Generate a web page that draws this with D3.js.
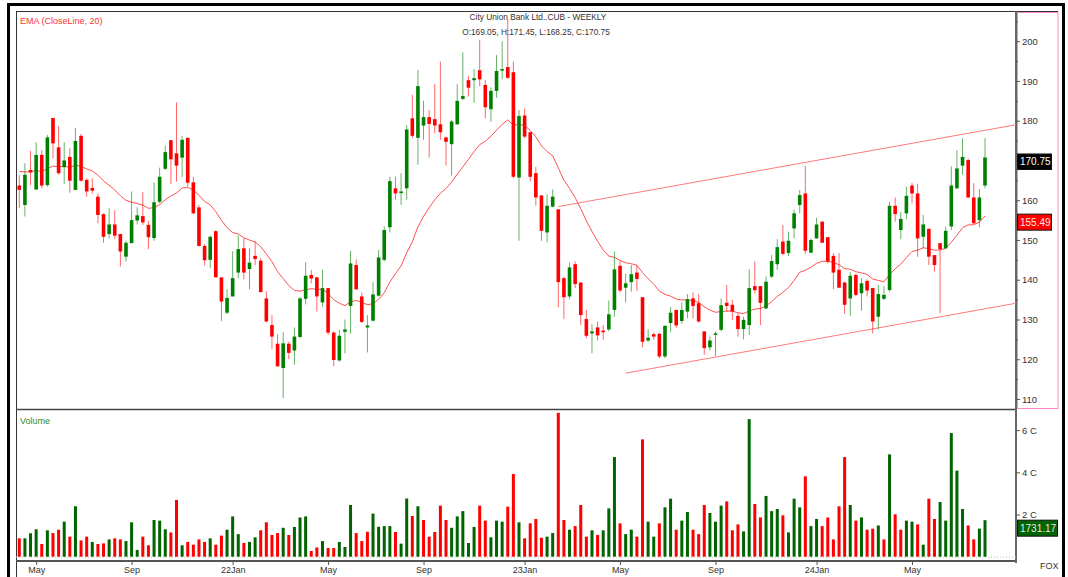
<!DOCTYPE html>
<html>
<head>
<meta charset="utf-8">
<script src="https://cdn.jsdelivr.net/npm/d3@7"></script>
<style>
body{margin:0;background:#fff;}
svg{display:block;font-family:"Liberation Sans",Arial,sans-serif;}
</style>
</head>
<body>
<div id="chart"></div>
<script>
var width = 1068;
var height = 577;

// weekly candles (Friday dated)
var firstWeek = "2021-04-16";

var opens = [163.7,158.8,167.6,162.7,171.4,163.8,180.7,173.3,168.3,170.9,162.6,176.2,165.1,163.1,160.9,156.5,151.5,153.9,151.5,145.8,
149.2,154.9,156.0,153.8,150.5,159.6,167.9,175.1,171.8,170.7,175.7,164.5,158.2,148.5,145.0,152.2,140.6,131.7,135.8,141.8,
147.9,142.7,146.0,144.8,135.3,128.6,123.9,117.8,123.9,122.2,125.6,135.2,141.2,140.6,134.3,137.9,126.7,119.7,126.9,133.4,
143.7,135.8,128.0,129.7,136.0,145.0,153.2,163.0,161.8,163.0,180.6,175.7,178.8,180.9,180.4,179.1,175.8,174.1,179.1,185.5,
190.2,190.2,192.7,189.0,182.9,187.5,192.8,193.5,192.2,165.7,181.3,177.1,166.8,161.2,151.9,158.4,157.7,140.4,135.8,143.9,
139.3,130.1,126.5,128.0,127.2,127.5,132.4,143.5,138.0,139.4,141.8,135.6,124.7,126.3,126.4,120.7,129.1,132.4,129.6,132.0,
135.3,134.1,127.0,123.0,126.1,127.4,134.2,133.7,130.9,127.6,128.6,138.4,138.4,132.8,140.8,143.9,149.6,146.7,152.9,158.8,
161.7,146.8,150.4,154.6,150.7,146.0,142.5,139.3,135.3,141.2,136.6,139.7,137.9,130.7,135.2,137.4,158.6,152.5,156.7,163.7,
161.7,150.8,152.8,146.2,149.2,147.9,153.4,163.0,168.7,170.1,160.7,155.0,163.7];
var highs = [166.3,169.3,172.4,174.6,172.6,176.4,180.7,178.7,174.6,173.1,178.2,176.7,165.5,165.5,161.7,156.7,158.0,157.5,151.5,149.8,
162.2,158.2,162.0,154.8,164.5,168.2,173.7,175.1,184.6,176.2,175.7,165.9,158.8,149.0,151.1,152.5,140.6,137.6,147.2,151.1,
150.4,147.9,149.6,145.4,137.1,131.1,126.3,126.8,124.4,128.0,135.6,144.4,142.5,140.6,142.5,137.9,127.0,127.4,130.0,147.3,
145.1,136.8,131.1,139.4,147.5,153.4,165.9,165.9,166.8,178.9,186.5,192.8,185.0,182.7,189.2,194.9,176.0,180.2,189.2,197.2,
191.3,193.0,200.3,190.2,188.4,196.5,200.0,205.5,194.9,182.7,183.1,177.2,168.4,161.3,161.5,162.7,157.8,140.8,144.3,144.6,
139.3,132.4,128.8,129.5,128.6,134.8,147.1,144.6,141.6,143.7,143.7,135.6,127.5,126.7,126.7,128.6,133.2,132.4,134.3,136.4,
136.8,136.4,127.0,125.7,127.0,135.3,138.7,134.9,131.6,130.7,142.6,144.6,138.4,140.8,146.2,150.2,153.8,152.1,157.6,162.6,
168.6,150.4,155.6,154.8,150.7,146.7,146.7,139.5,142.0,141.5,140.4,140.1,137.9,138.7,138.4,159.6,160.7,157.1,163.4,164.4,
164.1,156.3,152.9,146.2,149.2,153.4,168.5,172.6,175.6,170.5,164.3,162.8,175.6];
var lows = [158.0,155.9,163.8,162.6,163.0,163.4,170.5,166.4,164.1,161.9,162.6,164.7,160.9,161.7,154.2,149.3,150.4,150.3,143.3,144.6,
149.2,153.9,153.8,147.7,149.8,159.2,167.6,164.1,164.7,165.8,163.4,156.5,148.3,143.6,142.9,140.6,129.6,131.4,135.8,140.4,
140.1,137.6,143.6,136.8,129.3,122.6,118.2,110.2,120.0,118.6,125.3,133.8,139.1,132.0,133.2,126.1,118.3,119.4,121.5,126.4,
137.4,129.1,121.7,129.5,135.8,144.6,151.9,160.1,158.8,160.1,175.6,168.9,175.2,170.7,176.8,175.2,168.7,166.2,178.9,185.2,
186.1,184.5,188.7,180.6,179.7,185.8,190.4,190.5,165.5,149.8,175.6,164.7,158.6,149.8,149.4,158.2,133.1,130.1,135.1,137.9,
128.6,125.3,121.5,124.7,124.9,127.0,130.7,136.8,134.3,137.0,137.2,123.0,124.4,124.9,120.3,120.3,126.8,127.8,128.9,130.3,
130.3,129.2,121.1,122.2,120.8,127.0,132.0,129.9,125.7,125.0,126.1,136.6,128.6,132.6,140.4,142.5,146.2,146.0,150.4,156.7,
146.5,146.7,150.3,149.3,144.1,137.6,137.9,131.4,130.9,135.9,132.2,135.8,126.5,127.5,134.9,137.0,154.6,150.2,155.2,159.2,
145.8,147.9,143.7,142.0,131.6,147.7,152.5,162.8,166.4,160.5,154.0,153.2,163.0];
var closes = [162.6,166.4,167.0,171.4,163.7,175.8,174.3,166.8,170.0,164.9,174.9,164.9,162.2,162.4,156.3,150.8,153.9,151.1,147.1,149.3,
155.0,156.2,154.4,150.7,159.5,165.9,172.1,170.3,168.7,175.2,164.4,156.7,148.5,144.9,150.8,140.6,134.5,135.4,140.4,147.7,
141.8,144.3,145.2,136.9,129.5,125.7,118.2,124.0,121.6,125.7,135.3,141.0,140.3,135.8,137.9,126.7,119.8,125.9,127.5,144.1,
137.6,129.4,128.5,136.3,145.6,152.5,164.8,161.7,162.2,177.8,176.2,188.7,180.9,179.2,178.8,177.1,174.7,179.8,185.0,186.2,
188.3,190.7,190.4,183.4,187.5,192.5,193.0,190.8,165.9,181.2,176.0,165.9,160.7,152.3,158.6,160.9,139.4,135.6,143.1,138.9,
131.1,125.9,127.0,126.0,126.8,131.3,142.6,137.3,139.1,141.4,140.2,124.4,125.4,125.7,120.7,128.4,131.7,128.5,132.4,135.1,
133.4,129.5,122.8,124.7,126.5,133.6,133.4,132.0,127.6,129.9,137.9,137.4,134.2,139.5,144.7,148.2,146.5,149.8,156.7,161.3,
147.3,150.0,153.9,149.3,144.6,141.8,138.0,133.7,141.0,136.2,139.1,137.3,129.5,136.4,136.2,158.6,156.5,155.3,161.1,161.7,
150.4,153.9,145.8,143.7,147.7,152.3,163.7,168.0,170.9,160.7,154.2,160.7,170.75];
// volume in crore
var volumes = [0.87,0.87,1.11,1.30,0.60,1.25,1.12,1.28,1.66,0.95,2.39,0.77,0.95,0.70,0.60,0.63,0.82,0.87,0.82,0.74,
1.63,0.32,0.95,0.54,1.74,1.71,1.30,1.15,2.69,0.54,0.70,0.57,0.82,0.70,0.87,0.57,1.00,1.28,1.91,1.07,
0.65,0.70,0.92,1.25,1.63,1.03,1.12,1.37,1.03,1.41,1.86,1.91,0.27,0.44,0.74,0.41,0.41,0.70,0.46,2.45,
1.12,0.74,1.18,2.04,1.42,1.45,1.45,1.17,0.62,2.76,1.93,2.39,1.74,0.95,1.17,2.42,1.74,1.37,1.91,2.16,
0.65,1.41,2.42,1.71,0.92,1.71,1.66,2.37,3.92,1.63,0.87,1.58,1.79,0.90,0.95,1.12,6.82,1.74,1.28,1.45,
2.45,0.95,1.25,1.03,1.25,2.29,4.72,1.58,1.07,1.28,0.95,5.56,1.66,0.95,1.58,2.34,2.75,1.28,1.71,2.12,
1.28,1.07,2.45,2.07,1.66,2.42,2.62,1.25,1.53,1.20,6.52,2.50,1.86,2.88,2.16,2.26,1.96,1.15,2.75,2.34,
3.81,1.45,1.79,1.45,1.86,0.82,2.39,4.72,2.45,1.71,1.86,1.28,1.33,1.48,0.82,4.85,2.01,1.28,1.71,1.66,
1.53,0.57,2.75,1.79,2.59,1.71,5.86,4.08,2.26,1.48,0.82,1.33,1.73];

var emaPeriod = 20;
var emaSeed = 167.7;

var channelUpper = [["2023-02-17", 158.4], ["2024-09-10", 179.0]];
var channelLower = [["2023-05-12", 116.5], ["2024-09-10", 134.1]];

var priceTicks = [110, 120, 130, 140, 150, 160, 170, 180, 190, 200];
var priceMinorTicks = [115, 125, 135, 145, 155, 165, 175, 185, 195, 205];
var volumeTicks = [2, 4, 6];
var volumeTickLabels = ["2 C", "4 C", "6 C"];
var monthTicks = ["2021-05-01","2021-09-01","2022-01-01","2022-05-01","2022-09-01","2023-01-01","2023-05-01","2023-09-01","2024-01-01","2024-05-01"];
var monthLabels = ["May","Sep","22Jan","May","Sep","23Jan","May","Sep","24Jan","May"];

var titleText = "City Union Bank Ltd..CUB - WEEKLY";
var ohlcText = "O:169.05, H:171.45, L:168.25, C:170.75";
var closeLabel = 170.75;
var emaLabel = 155.49;
var volumeLabel = 1731.17;
var volumeLabelC = 1.7312;

var parse = d3.utcParse("%Y-%m-%d");
var start = parse(firstWeek);
var dates = d3.utcFriday.range(start, d3.utcDay.offset(start, 7 * closes.length));

var data = dates.map(function(d, i){
    return {date: d, o: opens[i], h: highs[i], l: lows[i], c: closes[i], v: volumes[i],
        up: closes[i] >= opens[i],
        volUp: i == 0 ? closes[i] >= opens[i] : closes[i] >= closes[i-1]};
});

var ema = [];
var prev = emaSeed;
var alpha = 2 / (emaPeriod + 1);
data.forEach(function(d){
    prev = alpha * d.c + (1 - alpha) * prev;
    ema.push({date: d.date, v: prev});
});

var plotLeft = 16, plotRight = 1016, priceTop = 11, priceBottom = 409;
var volBottom = 561;

var x = d3.scaleUtc().domain([dates[0], dates[dates.length-1]]).range([19.3, 985]);
var yPrice = d3.scaleLinear().domain([110, 200]).range([399, 41.2]);
var yVol = d3.scaleLinear().domain([0, 7]).range([556.7, 409]);

var green = "#008000", red = "#ff0000", volGreen = "#006400";

var svg = d3.select("#chart").append("svg").attr("width", width).attr("height", height);

svg.append("defs").append("clipPath").attr("id", "clipPrice")
    .append("rect").attr("x", plotLeft).attr("y", priceTop).attr("width", plotRight - plotLeft).attr("height", priceBottom - priceTop);

// frame
svg.append("rect").attr("x", 8.5).attr("y", 4.5).attr("width", 1055).attr("height", 620)
    .attr("fill", "none").attr("stroke", "#000").attr("stroke-width", 3);
svg.append("line").attr("x1", plotLeft).attr("x2", 1058).attr("y1", 11.5).attr("y2", 11.5).attr("stroke", "#333");
svg.append("line").attr("x1", plotLeft + 0.5).attr("x2", plotLeft + 0.5).attr("y1", 11).attr("y2", height).attr("stroke", "#333");
svg.append("rect").attr("x", 1017.5).attr("y", 12.5).attr("width", 40.5).attr("height", 396)
    .attr("fill", "none").attr("stroke", "#ff88c8");
svg.append("line").attr("x1", plotLeft).attr("x2", plotRight).attr("y1", 409.5).attr("y2", 409.5).attr("stroke", "#444").attr("stroke-width", 1.5);
svg.append("line").attr("x1", plotLeft).attr("x2", plotRight).attr("y1", volBottom).attr("y2", volBottom).attr("stroke", "#555").attr("stroke-width", 2);
svg.append("line").attr("x1", plotRight).attr("x2", plotRight).attr("y1", 11).attr("y2", 563).attr("stroke", "#666").attr("stroke-width", 2);

// titles
svg.append("text").attr("x", 538).attr("y", 19.5).attr("text-anchor", "middle")
    .attr("font-size", "8.3px").attr("fill", "#333").text(titleText);
svg.append("text").attr("x", 536).attr("y", 34.5).attr("text-anchor", "middle")
    .attr("font-size", "8.3px").attr("fill", "#333").text(ohlcText);
svg.append("text").attr("x", 20).attr("y", 24).attr("font-size", "9px").attr("fill", "#ff3333").text("EMA (CloseLine, 20)");
svg.append("text").attr("x", 20).attr("y", 423.5).attr("font-size", "9px").attr("fill", "#2e8b2e").text("Volume");

// price panel
var gPrice = svg.append("g").attr("clip-path", "url(#clipPrice)");

gPrice.selectAll(".channel").data([channelUpper, channelLower])
    .join("line").attr("class", "channel")
    .attr("x1", d => x(parse(d[0][0]))).attr("y1", d => yPrice(d[0][1]))
    .attr("x2", d => x(parse(d[1][0]))).attr("y2", d => yPrice(d[1][1]))
    .attr("stroke", "#ff7a7a").attr("stroke-width", 1);

gPrice.append("path").datum(ema)
    .attr("fill", "none").attr("stroke", "#ff5050").attr("stroke-width", 1)
    .attr("d", d3.line().x(d => x(d.date)).y(d => yPrice(d.v)));

var candle = gPrice.selectAll(".candle").data(data).join("g").attr("class", "candle");
candle.append("line")
    .attr("x1", d => x(d.date)).attr("x2", d => x(d.date))
    .attr("y1", d => yPrice(d.h)).attr("y2", d => yPrice(d.l))
    .attr("stroke", d => d.up ? green : red).attr("stroke-opacity", 0.6).attr("stroke-width", 1);
candle.append("rect")
    .attr("x", d => x(d.date) - 1.8).attr("width", 3.6)
    .attr("y", d => yPrice(Math.max(d.o, d.c)))
    .attr("height", d => Math.max(1.5, Math.abs(yPrice(d.o) - yPrice(d.c))))
    .attr("fill", d => d.up ? green : red);

// volume panel
svg.append("line").attr("x1", plotLeft).attr("x2", plotRight).attr("y1", yVol(0) + 0.5).attr("y2", yVol(0) + 0.5)
    .attr("stroke", "#bbb").attr("stroke-dasharray", "1,2");
svg.selectAll(".vol").data(data).join("rect").attr("class", "vol")
    .attr("x", d => x(d.date) - 1.5).attr("width", 3)
    .attr("y", d => yVol(d.v)).attr("height", d => yVol(0) - yVol(d.v))
    .attr("fill", d => d.volUp ? volGreen : red);

// price axis
var priceAxis = svg.append("g").attr("transform", `translate(${plotRight},0)`)
    .call(d3.axisRight(yPrice).tickValues(priceTicks).tickSize(4).tickPadding(2).tickFormat(d3.format("d")));
svg.append("g").attr("transform", `translate(${plotRight},0)`)
    .call(d3.axisRight(yPrice).tickValues(priceMinorTicks.filter(d => yPrice(d) > priceTop)).tickSize(2).tickFormat(""));

var volAxis = svg.append("g").attr("transform", `translate(${plotRight},0)`)
    .call(d3.axisRight(yVol).tickValues(volumeTicks).tickSize(4).tickPadding(2).tickFormat((d, i) => volumeTickLabels[i]));

var timeAxis = svg.append("g").attr("transform", `translate(0,${volBottom})`)
    .call(d3.axisBottom(x)
        .tickValues(monthTicks.map(m => dates.find(d => d >= parse(m))))
        .tickSize(4).tickPadding(2)
        .tickFormat((d, i) => monthLabels[i]));

svg.selectAll(".domain").remove();
svg.selectAll(".tick line").attr("stroke", "#555");
svg.selectAll(".tick text").attr("fill", "#333").attr("font-size", "9.5px")
    .attr("font-family", "\"Liberation Sans\",Arial,sans-serif");
timeAxis.selectAll(".tick text").attr("font-size", "9px");
// the close tag sits on top of this label, as in the original
priceAxis.selectAll(".tick text").filter(d => Math.abs(yPrice(d) - yPrice(closeLabel) - 4) < 10).remove();

// value tags on the axis
var tags = [
    {y: yPrice(closeLabel) - 3.5, h: 15.5, w: 34, fill: "#000", text: d3.format(".2f")(closeLabel), color: "#fff"},
    {y: yPrice(emaLabel) - 4, h: 16, w: 34, fill: "#ff0000", text: d3.format(".2f")(emaLabel), color: "#ffe6e6"},
    {y: yVol(volumeLabelC), h: 16, w: 40, fill: "#006400", text: d3.format(".2f")(volumeLabel), color: "#e8e8e8"}
];
var tag = svg.selectAll(".tag").data(tags).join("g").attr("class", "tag");
tag.append("rect").attr("x", 1017.5).attr("y", d => d.y).attr("width", d => d.w).attr("height", d => d.h)
    .attr("fill", d => d.fill).attr("stroke", "#111").attr("stroke-width", 1);
tag.append("text").attr("x", 1020).attr("y", d => d.y + d.h / 2).attr("dy", "0.35em")
    .attr("font-size", "10px").attr("fill", d => d.color).text(d => d.text);

svg.append("text").attr("x", 1040).attr("y", 569).attr("font-size", "9px").attr("fill", "#333").text("FOX");
</script>
</body>
</html>
